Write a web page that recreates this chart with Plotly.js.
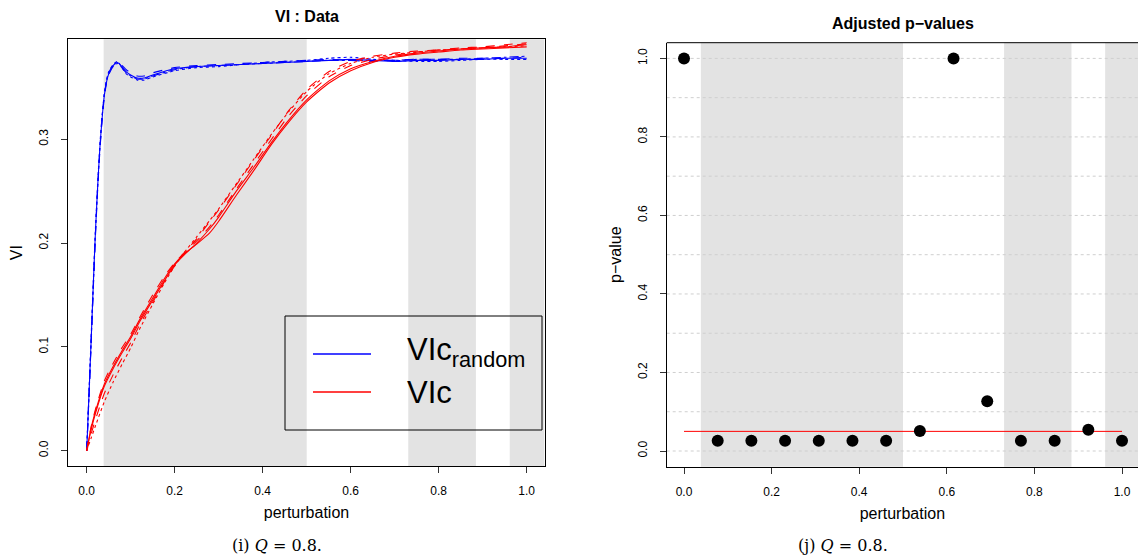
<!DOCTYPE html>
<html>
<head>
<meta charset="utf-8">
<script src="https://cdn.plot.ly/plotly-3.0.1.min.js"></script>
<style>html,body{margin:0;padding:0;background:#fff;}#chart{width:1138px;height:557px;}</style>
</head>
<body>
<div id="chart"></div>
<script>
// ---------- data ----------
const blueX = [0, 0.005, 0.01, 0.015, 0.02, 0.025, 0.03, 0.035, 0.04, 0.045, 0.05, 0.06, 0.07, 0.08, 0.09, 0.1, 0.115, 0.13, 0.15, 0.2, 0.25, 0.3, 0.35, 0.4, 0.45, 0.5, 0.55, 0.6, 0.65, 0.7, 0.75, 0.8, 0.85, 0.9, 0.95, 1.0];
const blue1 = [0, 0.052, 0.105, 0.160, 0.212, 0.255, 0.292, 0.320, 0.342, 0.355, 0.363, 0.371, 0.374, 0.370, 0.365, 0.362, 0.359, 0.359, 0.362, 0.368, 0.370, 0.371, 0.372, 0.373, 0.374, 0.375, 0.376, 0.377, 0.376, 0.375, 0.376, 0.376, 0.377, 0.377, 0.378, 0.378];
const blue2 = [0, 0.050, 0.102, 0.156, 0.208, 0.252, 0.289, 0.318, 0.340, 0.354, 0.362, 0.370, 0.373, 0.371, 0.367, 0.364, 0.361, 0.361, 0.364, 0.369, 0.371, 0.372, 0.373, 0.374, 0.375, 0.376, 0.377, 0.376, 0.375, 0.376, 0.377, 0.377, 0.378, 0.378, 0.378, 0.379];
const blue3 = [0, 0.054, 0.108, 0.163, 0.215, 0.258, 0.295, 0.323, 0.344, 0.357, 0.365, 0.372, 0.375, 0.369, 0.363, 0.360, 0.357, 0.357, 0.360, 0.366, 0.369, 0.370, 0.372, 0.374, 0.375, 0.376, 0.378, 0.379, 0.377, 0.376, 0.375, 0.375, 0.376, 0.377, 0.377, 0.377];
const blue4 = [0, 0.051, 0.104, 0.158, 0.210, 0.254, 0.291, 0.321, 0.343, 0.356, 0.364, 0.371, 0.373, 0.369, 0.364, 0.361, 0.358, 0.358, 0.361, 0.367, 0.370, 0.371, 0.372, 0.373, 0.374, 0.375, 0.376, 0.376, 0.376, 0.376, 0.377, 0.377, 0.377, 0.378, 0.379, 0.380];

const redX = [0, 0.01, 0.02, 0.04, 0.06, 0.08, 0.1, 0.12, 0.15, 0.18, 0.2, 0.22, 0.25, 0.28, 0.3, 0.34, 0.38, 0.42, 0.46, 0.5, 0.55, 0.6, 0.65, 0.7, 0.75, 0.8, 0.85, 0.9, 0.95, 1.0];
const red1 = [0, 0.022, 0.038, 0.064, 0.081, 0.096, 0.110, 0.126, 0.147, 0.168, 0.180, 0.189, 0.199, 0.210, 0.221, 0.246, 0.270, 0.295, 0.317, 0.336, 0.354, 0.366, 0.374, 0.379, 0.382, 0.384, 0.386, 0.387, 0.388, 0.389];
const red2 = [0, 0.020, 0.036, 0.062, 0.079, 0.094, 0.108, 0.124, 0.145, 0.166, 0.179, 0.188, 0.200, 0.214, 0.225, 0.250, 0.273, 0.297, 0.319, 0.338, 0.356, 0.368, 0.375, 0.380, 0.383, 0.385, 0.387, 0.388, 0.389, 0.391];
const red3 = [0, 0.023, 0.040, 0.067, 0.084, 0.099, 0.112, 0.128, 0.150, 0.170, 0.181, 0.190, 0.204, 0.221, 0.232, 0.256, 0.280, 0.304, 0.328, 0.348, 0.365, 0.375, 0.380, 0.383, 0.385, 0.386, 0.387, 0.388, 0.390, 0.392];
const red4 = [0, 0.012, 0.024, 0.047, 0.066, 0.083, 0.099, 0.117, 0.141, 0.164, 0.178, 0.190, 0.206, 0.222, 0.233, 0.257, 0.281, 0.305, 0.327, 0.346, 0.363, 0.373, 0.379, 0.382, 0.384, 0.386, 0.387, 0.388, 0.389, 0.390];
const red5 = [0, 0.016, 0.030, 0.055, 0.073, 0.089, 0.104, 0.121, 0.143, 0.165, 0.178, 0.189, 0.202, 0.216, 0.227, 0.252, 0.276, 0.300, 0.323, 0.342, 0.360, 0.371, 0.377, 0.381, 0.384, 0.386, 0.388, 0.389, 0.391, 0.393];

const pX = [0, 0.0769, 0.1538, 0.2308, 0.3077, 0.3846, 0.4615, 0.5385, 0.6154, 0.6923, 0.7692, 0.8462, 0.9231, 1.0];
const pVals = [1.0, 0.026, 0.026, 0.026, 0.026, 0.026, 0.026, 0.051, 1.0, 0.127, 0.026, 0.026, 0.054, 0.026];
const alphaX = [0, 1];
const alphaY = [0.05, 0.05];

const shadeStart = [0.0385, 0.7308, 0.9615];
const shadeEnd = [0.5, 0.8846, 1.04];

const xTicks = [0, 0.2, 0.4, 0.6, 0.8, 1.0];
const xTickText = ["0.0", "0.2", "0.4", "0.6", "0.8", "1.0"];
const viTicks = [0, 0.1, 0.2, 0.3];
const viTickText = ["0.0", "0.1", "0.2", "0.3"];
const pTicks = [0, 0.2, 0.4, 0.6, 0.8, 1.0];
const pTickText = ["0.0", "0.2", "0.4", "0.6", "0.8", "1.0"];
const pGrid = [0, 0.1, 0.2, 0.3, 0.4, 0.5, 0.6, 0.7, 0.8, 0.9, 1.0];

const legendLabels = ["VIc<sub>random</sub>", "VIc"];
const legendColors = ["#0000ff", "#ff0000"];

// ---------- traces ----------
const FONT = "Liberation Sans, Arial, Helvetica, sans-serif";
const traces = [];
const blueSeries = [[blue1, "solid"], [blue2, "dash"], [blue3, "dot"], [blue4, "dashdot"]];
const redSeries = [[red1, "solid"], [red2, "solid"], [red3, "dash"], [red4, "dot"], [red5, "dash"]];
blueSeries.forEach(([ys, d]) => traces.push({
  x: blueX, y: ys, xaxis: "x", yaxis: "y", mode: "lines",
  line: {color: "#0000ff", width: 1.1, dash: d, shape: "spline", smoothing: 0.6},
  showlegend: false, hoverinfo: "skip"
}));
redSeries.forEach(([ys, d]) => traces.push({
  x: redX, y: ys, xaxis: "x", yaxis: "y", mode: "lines",
  line: {color: "#ff0000", width: 1.1, dash: d, shape: "spline", smoothing: 0.6},
  showlegend: false, hoverinfo: "skip"
}));
traces.push({
  x: alphaX, y: alphaY, xaxis: "x2", yaxis: "y2", mode: "lines",
  line: {color: "#ff0000", width: 1}, showlegend: false, hoverinfo: "skip"
});
traces.push({
  x: pX, y: pVals, xaxis: "x2", yaxis: "y2", mode: "markers",
  marker: {color: "#000000", size: 12}, showlegend: false
});

// ---------- layout ----------
const W = 1138, H = 557;
const px = v => v / W;
const py = v => 1 - v / H;

const shapes = [];
shadeStart.forEach((s, i) => {
  ["x", "x2"].forEach((xr, j) => shapes.push({
    type: "rect", xref: xr, yref: (j === 0 ? "y" : "y2") + " domain",
    x0: s, x1: shadeEnd[i], y0: 0, y1: 1,
    fillcolor: "#e3e3e3", line: {width: 0}, layer: "below"
  }));
});
// dotted reference grid of the right panel
pGrid.forEach(g => shapes.push({type: "line", xref: "x2 domain", yref: "y2", x0: 0, x1: 1, y0: g, y1: g,
  line: {color: "#cfcfcf", width: 1, dash: "dot"}, layer: "below"}));
// legend key box and sample lines
shapes.push({type: "rect", xref: "paper", yref: "paper", x0: px(285), x1: px(542), y0: py(430), y1: py(316),
  line: {color: "#000", width: 1}, fillcolor: "rgba(0,0,0,0)"});
legendColors.forEach((c, i) => shapes.push({type: "line", xref: "paper", yref: "paper",
  x0: px(313), x1: px(371), y0: py(354 + 38 * i), y1: py(354 + 38 * i), line: {color: c, width: 1.5}}));
// top border of the right panel
shapes.push({type: "line", xref: "x2 domain", yref: "y2 domain", x0: 0, x1: 1, y0: 1, y1: 1, line: {color: "#000", width: 1}});

const annotations = [
  {text: "<b>VI : Data</b>", xref: "paper", yref: "paper", x: px(306.5), y: py(17), showarrow: false,
   font: {family: FONT, size: 16, color: "#000"}, xanchor: "center", yanchor: "middle"},
  {text: "<b>Adjusted p\u2212values</b>", xref: "paper", yref: "paper", x: px(903), y: py(24), showarrow: false,
   font: {family: FONT, size: 16, color: "#000"}, xanchor: "center", yanchor: "middle"},
  {text: legendLabels[0], xref: "paper", yref: "paper", x: px(405), y: py(352), showarrow: false,
   font: {family: FONT, size: 31, color: "#000"}, xanchor: "left", yanchor: "middle"},
  {text: legendLabels[1], xref: "paper", yref: "paper", x: px(405), y: py(392), showarrow: false,
   font: {family: FONT, size: 31, color: "#000"}, xanchor: "left", yanchor: "middle"},
  {text: "(i) <i>Q</i> = 0.8.", xref: "paper", yref: "paper", x: px(277), y: py(545), showarrow: false,
   font: {family: "DejaVu Serif, Liberation Serif, serif", size: 16, color: "#000"}, xanchor: "center", yanchor: "middle"},
  {text: "(j) <i>Q</i> = 0.8.", xref: "paper", yref: "paper", x: px(843), y: py(545), showarrow: false,
   font: {family: "DejaVu Serif, Liberation Serif, serif", size: 16, color: "#000"}, xanchor: "center", yanchor: "middle"}
];

const tickFont = {family: FONT, size: 12, color: "#000"};
const titleFont = {family: FONT, size: 16, color: "#000"};

const layout = {
  width: W, height: H,
  margin: {l: 0, r: 0, t: 0, b: 0},
  paper_bgcolor: "#fff", plot_bgcolor: "rgba(0,0,0,0)",
  showlegend: false,
  xaxis: {domain: [px(68), px(545)], range: [-0.0425, 1.0416], anchor: "y",
    tickvals: xTicks, ticktext: xTickText, ticks: "outside", ticklen: 6, tickcolor: "#333",
    showline: true, linecolor: "#000", linewidth: 1, mirror: true, showgrid: false, zeroline: false,
    tickfont: tickFont, ticklabelstandoff: 8,
    title: {text: "perturbation", font: titleFont, standoff: 9}},
  yaxis: {domain: [py(466), py(39.3)], range: [-0.0148, 0.3963], anchor: "x",
    tickvals: viTicks, ticktext: viTickText, ticks: "outside", ticklen: 6, tickcolor: "#333", tickangle: -90,
    showline: true, linecolor: "#000", linewidth: 1, mirror: true, showgrid: false, zeroline: false,
    tickfont: tickFont, ticklabelstandoff: 8,
    title: {text: "VI", font: titleFont, standoff: 10}},
  xaxis2: {domain: [px(666.7), 1], range: [-0.0395, 1.0365], anchor: "y2",
    tickvals: xTicks, ticktext: xTickText, ticks: "outside", ticklen: 6, tickcolor: "#333",
    showline: true, linecolor: "#000", linewidth: 1, mirror: false, showgrid: false, zeroline: false,
    tickfont: tickFont, ticklabelstandoff: 8,
    title: {text: "perturbation", font: titleFont, standoff: 9}},
  yaxis2: {domain: [py(466.7), py(42.7)], range: [-0.04, 1.04], anchor: "x2",
    tickvals: pTicks, ticktext: pTickText, ticks: "outside", ticklen: 6, tickcolor: "#333", tickangle: -90,
    showline: true, linecolor: "#000", linewidth: 1, mirror: false, zeroline: false, showgrid: false,
    tickfont: tickFont, ticklabelstandoff: 8,
    title: {text: "p\u2212value", font: titleFont, standoff: 10}},
  shapes: shapes,
  annotations: annotations
};

Plotly.newPlot("chart", traces, layout, {displayModeBar: false, staticPlot: true});
</script>
</body>
</html>
